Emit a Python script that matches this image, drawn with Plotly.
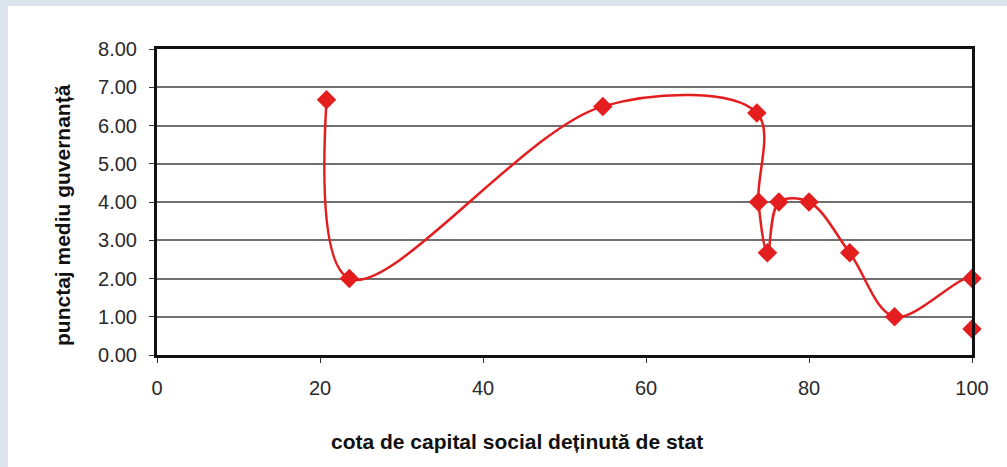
import plotly.graph_objects as go

# Data
state_share = [20.8, 23.6, 54.7, 73.6, 73.8, 74.9, 76.3, 80.0, 85.0, 90.5, 100.0, 100.0]
governance_score = [6.67, 2.00, 6.50, 6.33, 4.00, 2.67, 4.00, 4.00, 2.67, 1.00, 2.00, 0.68]

y_ticks = [0, 1, 2, 3, 4, 5, 6, 7, 8]
y_tick_labels = ["0.00", "1.00", "2.00", "3.00", "4.00", "5.00", "6.00", "7.00", "8.00"]
x_ticks = [0, 20, 40, 60, 80, 100]

x_title = "cota de capital social deținută de stat"
y_title = "punctaj mediu guvernanță"

W, H = 1007, 467
red = "#e41d1f"

fig = go.Figure()
fig.add_trace(go.Scatter(
    x=state_share, y=governance_score,
    mode="lines+markers",
    line=dict(color=red, width=2.5, shape="spline", smoothing=1.0),
    marker=dict(symbol="diamond", size=15, color=red),
    showlegend=False,
    cliponaxis=False,
    hoverinfo="x+y",
))

tick_font = dict(family="Liberation Sans, Arial, sans-serif", size=20, color="#2a2a2a")
title_font = dict(family="Liberation Sans Narrow, Arial Narrow, Liberation Sans, sans-serif",
                  size=21, color="#111111")

fig.update_layout(
    width=W, height=H,
    margin=dict(l=157, r=35, t=49, b=112),
    paper_bgcolor="#dce4ee",
    plot_bgcolor="white",
    xaxis=dict(
        range=[0, 100], tickvals=x_ticks, ticktext=[str(v) for v in x_ticks],
        showgrid=False, zeroline=False,
        showline=True, linecolor="#111111", linewidth=3, mirror=True,
        ticks="outside", ticklen=5, tickcolor="#333333", tickwidth=1,
        tickfont=tick_font, ticklabelstandoff=8,
    ),
    yaxis=dict(
        range=[0, 8], tickvals=y_ticks, ticktext=y_tick_labels,
        showgrid=True, gridcolor="#707070", gridwidth=1.5, zeroline=False,
        showline=True, linecolor="#111111", linewidth=3, mirror=True,
        ticks="outside", ticklen=5, tickcolor="#333333", tickwidth=1,
        tickfont=tick_font, ticklabelstandoff=8,
    ),
    shapes=[dict(
        type="rect", xref="paper", yref="paper", layer="below",
        x0=-157 / (W - 157 - 35) + 8 / (W - 157 - 35), x1=1 + 40 / (W - 157 - 35),
        y0=-112 / (H - 49 - 112) - 0.05, y1=1 + (49 - 6) / (H - 49 - 112),
        fillcolor="white", line=dict(width=0),
    )],
    annotations=[
        dict(text="<b>" + x_title + "</b>", xref="paper", yref="paper",
             x=(517 - 157) / (W - 157 - 35), y=-(442 - 355) / (H - 49 - 112),
             xanchor="center", yanchor="middle", showarrow=False, font=title_font),
        dict(text="<b>" + y_title + "</b>", xref="paper", yref="paper",
             x=-(157 - 62) / (W - 157 - 35), y=(355 - 215) / (H - 49 - 112),
             xanchor="center", yanchor="middle", textangle=-90, showarrow=False,
             font=title_font),
    ],
)

fig.write_html("out.html")
